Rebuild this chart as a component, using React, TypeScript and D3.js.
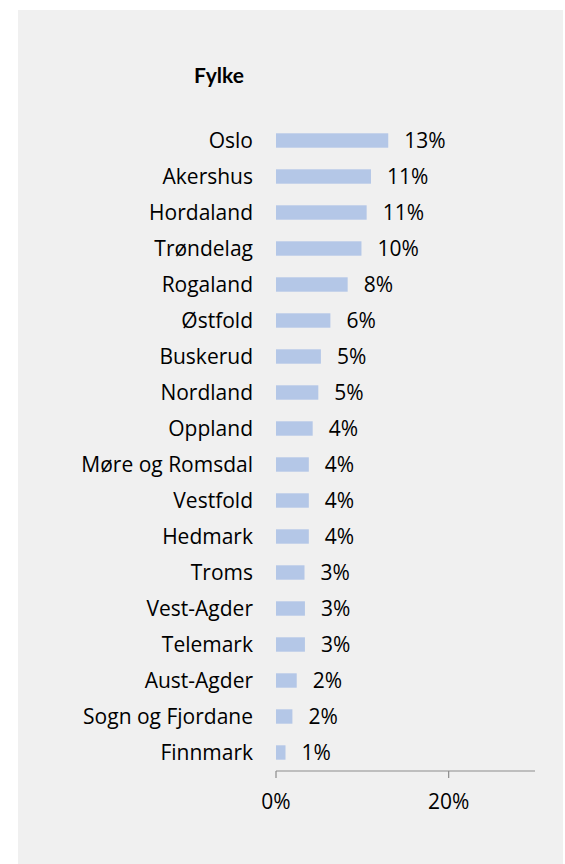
import React from "react";
import * as d3 from "d3";

const categories = [
  "Oslo", "Akershus", "Hordaland", "Trøndelag", "Rogaland", "Østfold",
  "Buskerud", "Nordland", "Oppland", "Møre og Romsdal", "Vestfold", "Hedmark",
  "Troms", "Vest-Agder", "Telemark", "Aust-Agder", "Sogn og Fjordane", "Finnmark",
];
const values = [13.0, 11.0, 10.5, 9.9, 8.3, 6.3, 5.2, 4.9, 4.25, 3.8, 3.8, 3.8, 3.3, 3.35, 3.35, 2.4, 1.9, 1.1];
const valueLabels = ["13%", "11%", "11%", "10%", "8%", "6%", "5%", "5%", "4%", "4%", "4%", "4%", "3%", "3%", "3%", "2%", "2%", "1%"];
const tickValues = [0, 20];
const tickLabels = ["0%", "20%"];
const title = "Fylke";

const W = 565;
const H = 864;
const FONT = "'Open Sans', Lato, sans-serif";
const TITLE_FONT = "Lato, 'Open Sans', sans-serif";
const FS = 21;

export default function App() {
  const x = d3.scaleLinear().domain([0, 30]).range([276, 535]);
  const y = d3
    .scaleBand<string>()
    .domain(categories)
    .range([122.5, 770.5])
    .paddingInner(0.6)
    .paddingOuter(0.3);
  const axisY = 771;
  const bw = y.bandwidth();

  return (
    <svg
      width={W}
      height={H}
      style={{ position: "absolute", left: 0, top: 0, background: "#ffffff" }}
    >
      <rect x={18} y={10} width={545} height={H - 10} fill="#f0f0f0" />
      <text
        x={219}
        y={83}
        textAnchor="middle"
        fontFamily={TITLE_FONT}
        fontWeight="bold"
        fontSize={21}
        fill="#000"
      >
        {title}
      </text>
      {categories.map((c, i) => {
        const yc = (y(c) as number) + bw / 2;
        return (
          <g key={c}>
            <rect
              x={x(0)}
              y={y(c) as number}
              width={x(values[i]) - x(0)}
              height={bw}
              fill="#b4c7e7"
            />
            <text
              x={253}
              y={yc + 7.5}
              textAnchor="end"
              fontFamily={FONT}
              fontSize={FS}
              fill="#000"
            >
              {c}
            </text>
            <text
              x={x(values[i]) + 16}
              y={yc + 7.5}
              textAnchor="start"
              fontFamily={FONT}
              fontSize={FS}
              fill="#000"
            >
              {valueLabels[i]}
            </text>
          </g>
        );
      })}
      <line x1={x(0)} x2={x(30)} y1={axisY} y2={axisY} stroke="#8c8c8c" strokeWidth={1.2} />
      {tickValues.map((t, i) => (
        <g key={t}>
          <line x1={x(t)} x2={x(t)} y1={axisY} y2={axisY + 7} stroke="#8c8c8c" strokeWidth={1.2} />
          <text
            x={x(t)}
            y={809}
            textAnchor="middle"
            fontFamily={FONT}
            fontSize={FS}
            fill="#000"
          >
            {tickLabels[i]}
          </text>
        </g>
      ))}
    </svg>
  );
}
